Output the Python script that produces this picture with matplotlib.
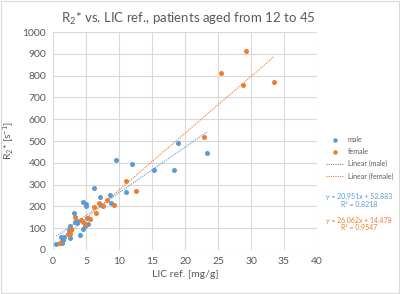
import matplotlib
matplotlib.use("Agg")
import matplotlib.pyplot as plt
import numpy as np
from matplotlib.patches import Rectangle

plt.rcParams['font.family'] = ['Lato', 'DejaVu Sans']
plt.rcParams['mathtext.fontset'] = 'custom'
plt.rcParams['mathtext.rm'] = 'Lato'
plt.rcParams['mathtext.it'] = 'Lato'

male_x = [0.5, 1.2, 1.5, 1.4, 1.7, 2.4, 2.5, 2.6, 3.2, 3.4, 3.6, 3.7, 4.1, 4.5, 4.6, 4.8,
          5.0, 5.0, 5.1, 5.3, 6.2, 7.1, 7.3, 8.7, 8.8, 9.6, 11.0, 12.0, 15.3, 18.3, 19.0, 23.3]
male_y = [29, 58, 46, 33, 58, 92, 112, 53, 168, 130, 125, 132, 70, 219, 95, 108,
          202, 209, 145, 117, 283, 245, 205, 252, 215, 411, 266, 394, 366, 366, 492, 446]
female_x = [1.1, 2.3, 2.5, 2.7, 2.8, 3.4, 4.3, 4.5, 4.8, 5.3, 5.6, 6.2, 6.5, 7.0, 7.5,
            8.2, 9.2, 11.1, 12.5, 22.9, 25.4, 28.8, 29.3, 33.5]
female_y = [34, 72, 74, 97, 92, 153, 138, 130, 117, 145, 143, 195, 171, 214, 204,
            230, 208, 315, 269, 520, 813, 755, 913, 772]

male_fit = (20.951, 52.883, 0.8218)
female_fit = (26.062, 14.478, 0.9547)

blue = '#5B9BD5'
orange = '#ED7D31'
gray = '#595959'

fig = plt.figure(figsize=(4.0, 2.94), dpi=100)
ax = fig.add_axes([0.1325, 0.1497, 0.66, 0.7413])

ax.scatter(male_x, male_y, s=13, color=blue, zorder=3, linewidths=0, label='male')
ax.scatter(female_x, female_y, s=13, color=orange, zorder=3, linewidths=0, label='female')

mx = np.array([min(male_x), max(male_x)])
fx = np.array([min(female_x), max(female_x)])
ax.plot(mx, male_fit[0] * mx + male_fit[1], color=blue, lw=0.8, ls=(0, (1, 1)),
        zorder=2, label='Linear (male)')
ax.plot(fx, female_fit[0] * fx + female_fit[1], color=orange, lw=0.8, ls=(0, (1, 1)),
        zorder=2, label='Linear (female)')

ax.set_xlim(0, 40)
ax.set_ylim(0, 1000)
ax.set_xticks(np.arange(0, 41, 5))
ax.set_yticks(np.arange(0, 1001, 100))
ax.grid(True, color='#D9D9D9', lw=0.8)
ax.set_axisbelow(True)
for s in ax.spines.values():
    s.set_visible(False)
ax.tick_params(length=0, labelsize=7.5, colors=gray, pad=5)

ax.set_xlabel('LIC ref. [mg/g]', fontsize=7.5, color=gray, labelpad=3)
ax.set_ylabel(r'R$_2$* [s$^{-1}$]', fontsize=7.5, color=gray, labelpad=4)
fig.text(0.47, 0.935, r'R$_2$* vs. LIC ref., patients aged from 12 to 45',
         ha='center', va='center', fontsize=9.5, color=gray)

leg = fig.legend(loc='center left', bbox_to_anchor=(0.815, 0.464),
                 frameon=False, fontsize=5, labelcolor=gray, handlelength=2.5,
                 handletextpad=0.6, labelspacing=0.75, markerscale=0.9,
                 borderpad=0, borderaxespad=0)

fig.text(0.898, 0.330, 'y = 20.951x + 52.883', ha='center', va='center', fontsize=5, color=blue)
fig.text(0.898, 0.305, 'R² = 0.8218', ha='center', va='center', fontsize=5, color=blue)
fig.text(0.898, 0.250, 'y = 26.062x + 14.478', ha='center', va='center', fontsize=5, color=orange)
fig.text(0.898, 0.225, 'R² = 0.9547', ha='center', va='center', fontsize=5, color=orange)

fig.patches.append(Rectangle((0.002, 0.003), 0.996, 0.994, transform=fig.transFigure,
                             fill=False, edgecolor='#D9D9D9', lw=0.8))

fig.savefig('out.png', dpi=100)
